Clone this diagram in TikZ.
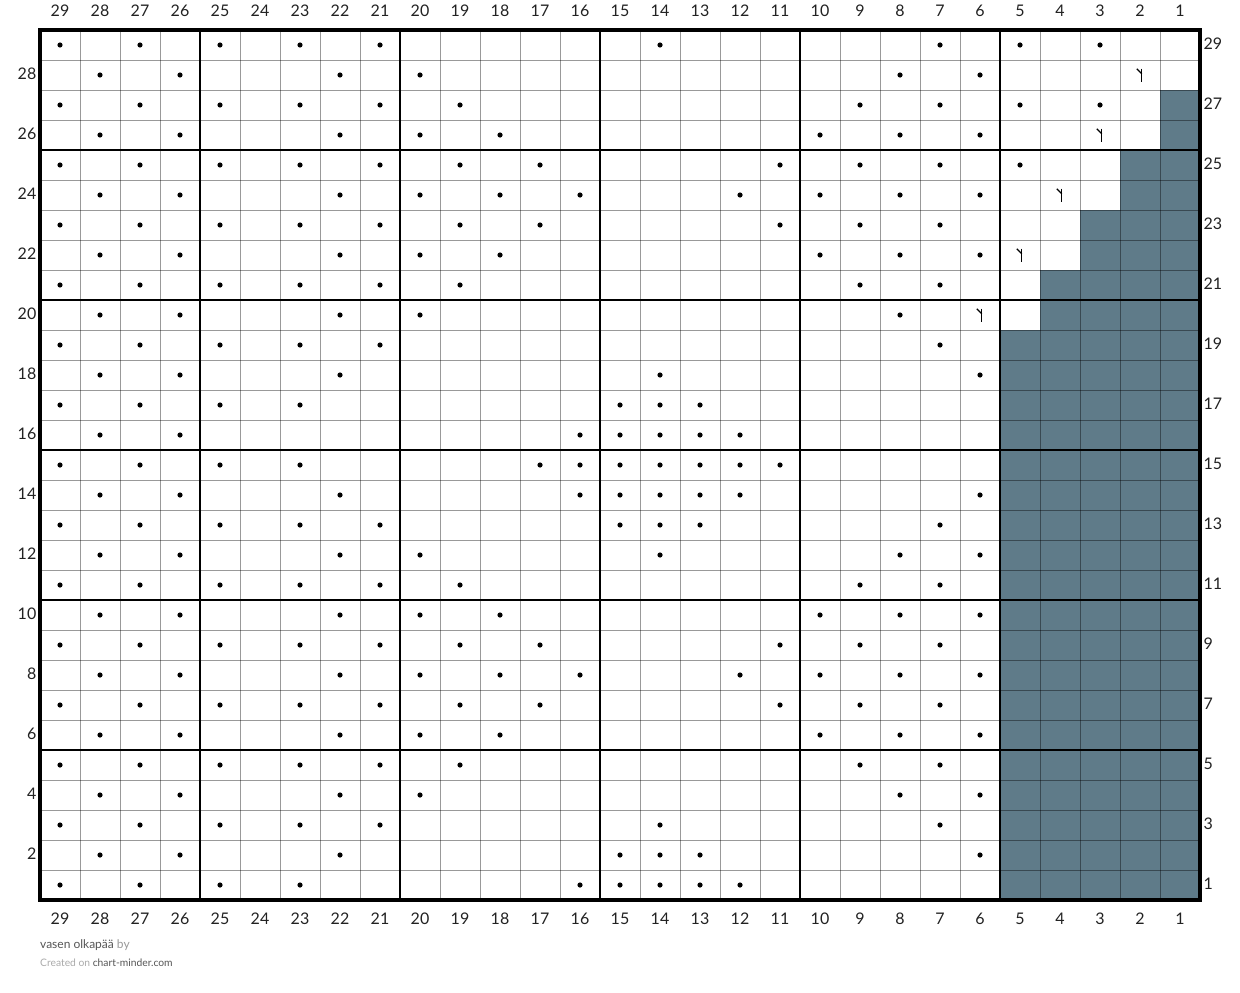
\documentclass[tikz,border=0pt]{standalone}
\usepackage{fontspec}
\setmainfont{Lato}
\definecolor{slatefill}{HTML}{5F7B89}
\definecolor{numcol}{HTML}{222222}
\begin{document}
\begin{tikzpicture}[x=1pt,y=-1pt,
  thinline/.style={black,opacity=0.4,line width=1pt},
  thickline/.style={black,line width=2.2pt},
  border/.style={black,line width=3.2pt},
  dotmark/.style={fill=black},
  numlabel/.style={font=\fontsize{16}{16}\selectfont,text=numcol,inner sep=0pt},
  symline/.style={black,line width=1.2pt}]
\useasboundingbox (0,0) rectangle (1240,993);
\fill[white] (0,0) rectangle (1240,993);
% shaded cells: row/number of shaded columns
\foreach \r/\n in {27/1,26/1,25/2,24/2,23/3,22/3,21/4,20/4,19/5,18/5,17/5,16/5,15/5,14/5,13/5,12/5,11/5,10/5,9/5,8/5,7/5,6/5,5/5,4/5,3/5,2/5,1/5}
  \fill[fill=slatefill] ({1200-40*\n},{900-30*\r}) rectangle (1200,{930-30*\r});
% thin grid
\foreach \k in {1,...,28} \draw[thinline] ({40+40*\k},30) -- ({40+40*\k},900);
\foreach \k in {1,...,28} \draw[thinline] (40,{30+30*\k}) -- (1200,{30+30*\k});
% thick grid
\foreach \xx in {200,400,600,800,1000} \draw[thickline] (\xx,30) -- (\xx,900);
\foreach \yy in {150,300,450,600,750} \draw[thickline] (40,\yy) -- (1200,\yy);
\draw[border] (40,30) rectangle (1200,900);
% dots
\foreach \r/\cs in {
 29/{29,27,25,23,21,14,7,5,3},
 28/{28,26,22,20,8,6},
 27/{29,27,25,23,21,19,9,7,5,3},
 26/{28,26,22,20,18,10,8,6},
 25/{29,27,25,23,21,19,17,11,9,7,5},
 24/{28,26,22,20,18,16,12,10,8,6},
 23/{29,27,25,23,21,19,17,11,9,7},
 22/{28,26,22,20,18,10,8,6},
 21/{29,27,25,23,21,19,9,7},
 20/{28,26,22,20,8},
 19/{29,27,25,23,21,7},
 18/{28,26,22,14,6},
 17/{29,27,25,23,15,14,13},
 16/{28,26,16,15,14,13,12},
 15/{29,27,25,23,17,16,15,14,13,12,11},
 14/{28,26,22,16,15,14,13,12,6},
 13/{29,27,25,23,21,15,14,13,7},
 12/{28,26,22,20,14,8,6},
 11/{29,27,25,23,21,19,9,7},
 10/{28,26,22,20,18,10,8,6},
 9/{29,27,25,23,21,19,17,11,9,7},
 8/{28,26,22,20,18,16,12,10,8,6},
 7/{29,27,25,23,21,19,17,11,9,7},
 6/{28,26,22,20,18,10,8,6},
 5/{29,27,25,23,21,19,9,7},
 4/{28,26,22,20,8,6},
 3/{29,27,25,23,21,14,7},
 2/{28,26,22,15,14,13,6},
 1/{29,27,25,23,16,15,14,13,12}}
 { \foreach \c in \cs \fill[dotmark] ({1220-40*\c},{915-30*\r}) circle (2.6); }
% decrease symbols
\foreach \c/\r in {2/28,3/26,4/24,5/22,6/20} {
  \draw[symline] ({1220-40*\c+1.7},{915-30*\r-6.5}) -- ({1220-40*\c+1.7},{915-30*\r+7});
  \draw[symline] ({1220-40*\c-3.2},{915-30*\r-6.2}) -- ({1220-40*\c+1.7},{915-30*\r-1.2});
}
% column numbers
\foreach \c in {1,...,29} {
  \node[numlabel] (ct\c) at ({1220-40*\c},11) {\c};
  \node[numlabel] (cb\c) at ({1220-40*\c},919) {\c};
}
% row numbers
\foreach \r in {2,4,...,28} \node[numlabel,anchor=east] (rl\r) at (36.5,{915-30*\r-1.5}) {\r};
\foreach \r in {1,3,...,29} \node[numlabel,anchor=west] (rr\r) at (1203.5,{915-30*\r-1.5}) {\r};
% footer
\node[anchor=base west,inner sep=0pt,font=\fontsize{12}{12}\selectfont] (title) at (40,948.5)
  {\textcolor[HTML]{555555}{vasen olkapää} \textcolor[HTML]{9A9A9A}{by}};
\node[anchor=base west,inner sep=0pt,font=\fontsize{10.3}{10.3}\selectfont] (credit) at (40,966.5)
  {\textcolor[HTML]{AAAAAA}{Created on} \textcolor[HTML]{555555}{chart-minder.com}};
\end{tikzpicture}
\end{document}
